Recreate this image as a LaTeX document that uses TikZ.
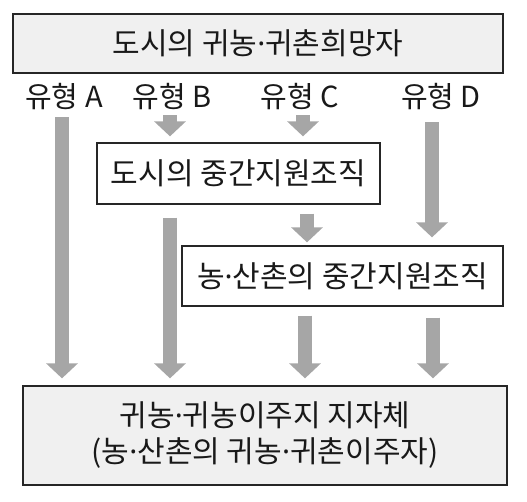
\documentclass[tikz,border=0pt]{standalone}
\usepackage{fontspec}
\setmainfont{Noto Sans CJK KR}
\newfontfamily\latfont{Noto Sans}
\newcommand{\mdot}{{\latfont ·}}
\usetikzlibrary{arrows.meta,positioning}

\begin{document}
\begin{tikzpicture}[x=1pt,y=-1pt,font=\fontsize{30}{36}\selectfont,
  box/.style={draw=black!85,line width=1.3pt,fill=white,inner sep=0pt,align=center,text=black!90},
  gbox/.style={box,fill=black!6},
  lbl/.style={inner sep=0pt,text=black!90,font=\fontsize{29}{34}\selectfont},
  arr/.style={-{Triangle[width=31pt,length=15pt]},line width=14pt,draw=black!35}]
\useasboundingbox (0,0) rectangle (527,501);
\node[gbox,minimum width=490pt,minimum height=59pt] (top) at (258,43.5) {도시의 귀농\mdot 귀촌희망자};
\node[lbl] (la) at (64,97) {유형 A};
\node[lbl] (lb) at (172,97) {유형 B};
\node[lbl] (lc) at (300,97) {유형 C};
\node[lbl] (ld) at (441,97) {유형 D};
\node[box,minimum width=283pt,minimum height=61pt] (mid1) at (238.5,173.5) {도시의 중간지원조직};
\node[box,minimum width=321pt,minimum height=60pt] (mid2) at (342.5,276) {농\mdot 산촌의 중간지원조직};
\node[gbox,minimum width=484pt,minimum height=99pt] (bot) at (265,435.5) {귀농\mdot 귀농이주지 지자체\\(농\mdot 산촌의 귀농\mdot 귀촌이주자)};
% type A, B, C, D
\draw[arr] ([xshift=-2pt,yshift=-7pt]la.south) -- ([xshift=-2pt,yshift=7pt]la.south|-bot.north);
\draw[arr] ([xshift=-2pt,yshift=-5pt]lb.south) -- ([xshift=-2pt,yshift=6pt]lb.south|-mid1.north);
\draw[arr] ([xshift=3pt,yshift=-5pt]lc.south) -- ([xshift=3pt,yshift=6pt]lc.south|-mid1.north);
\draw[arr] ([xshift=-9pt,yshift=-12pt]ld.south) -- ([xshift=-9pt,yshift=8pt]ld.south|-mid2.north);
% from the support groups
\draw[arr] ([xshift=-2pt,yshift=-13pt]lb.south|-mid1.south) -- ([xshift=-2pt,yshift=7pt]lb.south|-bot.north);
\draw[arr] ([xshift=7pt,yshift=-9pt]lc.south|-mid1.south) -- ([xshift=7pt,yshift=3pt]lc.south|-mid2.north);
\draw[arr] ([xshift=5pt,yshift=-9pt]lc.south|-mid2.south) -- ([xshift=5pt,yshift=7pt]lc.south|-bot.north);
\draw[arr] ([xshift=-8pt,yshift=-11pt]ld.south|-mid2.south) -- ([xshift=-8pt,yshift=7pt]ld.south|-bot.north);
\end{tikzpicture}
\end{document}
